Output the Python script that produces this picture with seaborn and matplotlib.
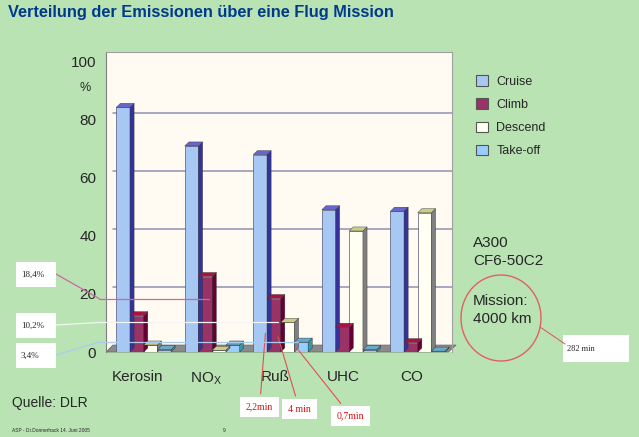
import matplotlib
matplotlib.use('Agg')
import matplotlib.pyplot as plt
import matplotlib.transforms as mtransforms
import seaborn as sns
import pandas as pd
from matplotlib.patches import Polygon, Ellipse, Patch, Rectangle

# Emission share per flight phase (percent)
substances = ['Kerosin', 'NO$_\\mathregular{X}$', 'Ruß', 'UHC', 'CO']
phases = ['Cruise', 'Climb', 'Descend', 'Take-off']
cruise = [84.3, 71.0, 68.0, 49.0, 48.5]
climb = [12.5, 26.0, 18.4, 8.5, 3.2]
descend = [2.4, 0.6, 10.2, 41.7, 48.0]
takeoff = [0.8, 2.4, 3.4, 0.8, 0.3]
y_ticks = [0, 20, 40, 60, 80, 100]

rows = []
for phase, vals in zip(phases, [cruise, climb, descend, takeoff]):
    for s, v in zip(substances, vals):
        rows.append({'substance': s, 'phase': phase, 'share': v})
df = pd.DataFrame(rows)

face = ['#a6c8f2', '#993366', '#fffff2', '#99ccff']
side = ['#333399', '#660033', '#808080', '#3399aa']
top = ['#6666cc', '#aa1144', '#cccc88', '#66aacc']

sns.set_style('white')
plt.rcParams['font.family'] = ['Liberation Sans', 'DejaVu Sans']
green = '#bae3b4'

fig = plt.figure(figsize=(6.39, 4.37), dpi=100, facecolor=green)
ax = fig.add_axes([106 / 639, 85 / 437, 346 / 639, 300 / 437])
ax.set_facecolor('#fffbf2')

sns.barplot(data=df, x='substance', y='share', hue='phase', hue_order=phases,
            palette=face, width=0.8, edgecolor='#555577', linewidth=0.5,
            saturation=1, legend=False, ax=ax, zorder=3)

ax.set_xlim(-0.55, 4.5)
ax.set_ylim(0, 103.4)

dx, dy = 0.06, 1.4
# floor of the 3D chart
ax.add_patch(Polygon([(-0.55, 0), (4.45, 0), (4.5 + dx, dy + 1.0), (-0.45, dy + 1.0)],
                     closed=True, facecolor='#8a8a8a', edgecolor='#666666',
                     lw=0.5, zorder=2, clip_on=False))

# back wall grid lines
for v in y_ticks[1:-1]:
    ax.plot([-0.45, 4.5], [v + 2.4, v + 2.4], color='#9090b0', lw=1.1, zorder=1)

# fake depth on each bar
for i, cont in enumerate(ax.containers):
    for p in cont.patches:
        x0, w, h = p.get_x(), p.get_width(), p.get_height()
        x1 = x0 + w
        ax.add_patch(Polygon([(x1, 0), (x1, h), (x1 + dx, h + dy), (x1 + dx, dy)],
                             closed=True, facecolor=side[i], edgecolor='#333333',
                             lw=0.3, zorder=3))
        ax.add_patch(Polygon([(x0, h), (x1, h), (x1 + dx, h + dy), (x0 + dx, h + dy)],
                             closed=True, facecolor=top[i], edgecolor='#333333',
                             lw=0.3, zorder=3))

ax.set_yticks(y_ticks)
ax.set_yticklabels([str(t) for t in y_ticks], fontsize=11)
ax.tick_params(axis='y', length=4, color='#808080', pad=3)
ax.tick_params(axis='x', length=0, pad=13, labelsize=11)
# category labels sit a little left of the bar groups, as in the 3D chart
shift = mtransforms.ScaledTranslation(-6 / 100, 0, fig.dpi_scale_trans)
for lbl in ax.get_xticklabels():
    lbl.set_transform(lbl.get_transform() + shift)
ax.set_xlabel('')
ax.set_ylabel('')
for s in ['top', 'right']:
    ax.spines[s].set_color('#a0a0a0')
    ax.spines[s].set_linewidth(0.8)
ax.spines['left'].set_color('#808080')
ax.spines['bottom'].set_visible(False)

fig.text(80 / 639, 1 - 88 / 437, '%', fontsize=9, va='center', ha='left')

# legend
handles = [Patch(facecolor=c, edgecolor='#555555', lw=0.8) for c in face]
ax.legend(handles, phases, loc='upper left', bbox_to_anchor=(465 / 639, 1 - 64 / 437),
          bbox_transform=fig.transFigure, frameon=False, fontsize=9,
          handlelength=0.9, handleheight=0.9, labelspacing=0.85, handletextpad=0.7)

# title
fig.text(8 / 639, 1 - 13 / 437, 'Verteilung der Emissionen über eine Flug Mission',
         fontsize=11.8, fontweight='bold', color='#003a8c', va='center', ha='left')

# aircraft info
fig.text(473 / 639, 1 - 252 / 437, 'A300\nCF6-50C2', fontsize=11, va='center',
         ha='left', linespacing=1.3)
fig.text(473 / 639, 1 - 310 / 437, 'Mission:\n4000 km', fontsize=11, va='center',
         ha='left', linespacing=1.3)
fig.add_artist(Ellipse((501 / 639, 1 - 318 / 437), 80 / 639, 86 / 437,
                       transform=fig.transFigure, fill=False, edgecolor='#e06060', lw=1.0))
fig.add_artist(plt.Line2D([540 / 639, 565 / 639], [1 - 327 / 437, 1 - 344 / 437],
                          transform=fig.transFigure, color='#e06060', lw=0.8))
fig.add_artist(Rectangle((563 / 639, 1 - 362 / 437), 66 / 639, 27 / 437,
                         transform=fig.transFigure, facecolor='white', edgecolor='none'))
fig.text(567 / 639, 1 - 349 / 437, '282 min', fontsize=6, family='Liberation Serif',
         va='center', ha='left')

# share callouts on the left (soot phase shares)
ruß = 2
callouts = [('18,4%', climb[ruß], 262, '#cc66aa', 0.95),
            ('10,2%', descend[ruß], 313, '#f4f4f4', 1.96),
            ('3,4%', takeoff[ruß], 343, '#a8ccf0', 2.25)]
for text, val, ypix, col, xend in callouts:
    fig.add_artist(Rectangle((16 / 639, 1 - (ypix + 25) / 437), 40 / 639, 25 / 437,
                             transform=fig.transFigure, facecolor='white', edgecolor='none'))
    fig.text(21 / 639, 1 - (ypix + 12.5) / 437, text, fontsize=6.5,
             family='Liberation Serif', va='center', ha='left')
    ax.annotate('', xy=(-0.65, val), xycoords='data',
                xytext=(56, 437 - ypix - 12), textcoords='figure pixels',
                arrowprops=dict(arrowstyle='-', color=col, lw=0.9,
                                shrinkA=0, shrinkB=0),
                annotation_clip=False)
    ax.plot([-0.65, xend], [val, val], color=col, lw=0.9, zorder=4, clip_on=False)

# minute callouts for the soot bars
mins = [('2,2min', -0.22, climb[ruß] * 0.4, 246, 407),
        ('4 min', -0.05, descend[ruß] * 0.6, 288, 409),
        ('0,7min', 0.2, takeoff[ruß] * 0.7, 337, 416)]
for text, off, val, xpix, ypix in mins:
    ax.annotate(text, xy=(ruß + off, val), xycoords='data',
                xytext=(xpix, 437 - ypix), textcoords='figure pixels',
                fontsize=7, family='Liberation Serif', color='#e01010',
                va='center', ha='left',
                bbox=dict(boxstyle='square,pad=0.6', facecolor='white', edgecolor='none'),
                arrowprops=dict(arrowstyle='-', color='#e05050', lw=0.8),
                annotation_clip=False)

fig.text(12 / 639, 1 - 403 / 437, 'Quelle: DLR', fontsize=10, va='center', ha='left')
fig.text(12 / 639, 1 - 430 / 437, 'ASP - Dr.Donnerhack 14. Juni 2005', fontsize=3.5,
         va='center', ha='left')
fig.text(223 / 639, 1 - 430 / 437, '9', fontsize=3.5, va='center', ha='left')

fig.savefig('out.png', dpi=100, facecolor=green)
